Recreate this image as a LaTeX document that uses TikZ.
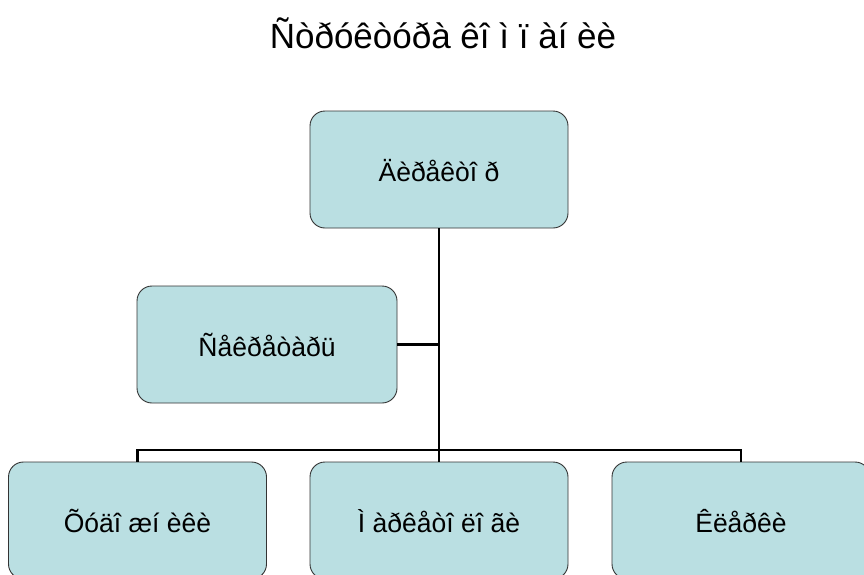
\documentclass[tikz,border=0pt]{standalone}
\usepackage{fontspec}
\setmainfont{Liberation Sans}
\definecolor{boxfill}{HTML}{BADFE2}
\definecolor{boxline}{HTML}{333333}
\begin{document}
\begin{tikzpicture}[x=1pt,y=-1pt,
  orgbox/.style={draw=boxline,line width=0.9pt,fill=boxfill,rounded corners=15pt,
    minimum width=258pt,minimum height=117pt,inner sep=0pt,text height=23pt,text depth=0pt,
    font=\fontsize{26.5}{31}\selectfont},
  link/.style={draw=black,line width=2.3pt}]
\clip (0,0) rectangle (864,574);
\fill[white] (0,0) rectangle (864,574);
\node[font=\fontsize{35}{42}\selectfont,anchor=base] (title) at (443,48) {Ñòðóêòóðà êî ì ï àí èè};
\node[orgbox] (dir) at (439,169.5) {Äèðåêòî ð};
\node[orgbox,minimum width=260pt] (sec) at (267,344.5) {Ñåêðåòàðü};
\node[orgbox] (art) at (137.5,520.5) {Õóäî æí èêè};
\node[orgbox] (mkt) at (439,520.5) {Ì  àðêåòî ëî ãè};
\node[orgbox] (clk) at (741,520.5) {Êëåðêè};
\coordinate (bar) at (439,450);
\draw[link] (dir.south) -- (mkt.north);
\draw[link] (sec.east) -- (sec.east -| dir.south);
\draw[link] (art.north) -- (art.north |- bar) -- (clk.north |- bar) -- (clk.north);
\end{tikzpicture}
\end{document}
